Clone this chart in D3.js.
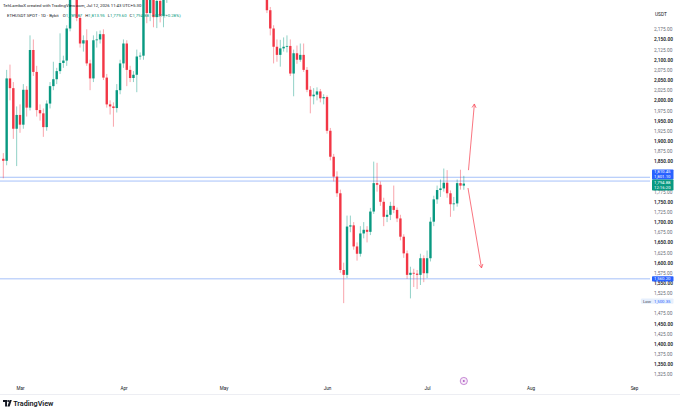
<!DOCTYPE html>
<html>
<head>
<meta charset="utf-8">
<script src="https://cdn.jsdelivr.net/npm/d3@7"></script>
<style>
	html, body { margin: 0; padding: 0; background: #fff; }
	svg { display: block; font-family: Roboto, "Noto Sans", sans-serif; }
</style>
</head>
<body>
<div id="chart"></div>
<script>
// ETHUSDT daily candles (Bybit). Mid Apr - mid May is above the visible range and left out.
var days = [
	"02-24","02-25","02-26","02-27","02-28",
	"03-01","03-02","03-03","03-04","03-05","03-06","03-07","03-08","03-09","03-10","03-11","03-12","03-13","03-14","03-15","03-16",
	"03-17","03-18","03-19","03-20","03-21","03-22","03-23","03-24","03-25","03-26","03-27","03-28","03-29","03-30","03-31",
	"04-01","04-02","04-03","04-04","04-05","04-06","04-07","04-08","04-09","04-10","04-11","04-12","04-13","04-14",
	"05-14","05-15","05-16","05-17","05-18","05-19","05-20","05-21","05-22","05-23","05-24","05-25","05-26","05-27","05-28","05-29","05-30","05-31",
	"06-01","06-02","06-03","06-04","06-05","06-06","06-07","06-08","06-09","06-10","06-11","06-12","06-13","06-14","06-15",
	"06-16","06-17","06-18","06-19","06-20","06-21","06-22","06-23","06-24","06-25","06-26","06-27","06-28","06-29","06-30",
	"07-01","07-02","07-03","07-04","07-05","07-06","07-07","07-08","07-09","07-10","07-11","07-12"
]
var open = [
	1856,1851,2054,2030,1930,
	1964,1940,2026,1982,2124,2070,1976,1968,1934,1992,2035,2052,2072,2092,2098,2177,
	2256,2272,2203,2140,2148,2091,2054,2148,2150,2163,2056,1990,1985,1981,2025,
	2091,2140,2075,2055,2063,2108,2110,2250,2215,2250,2205,2245,2208,2252,
	2290,2222,2177,2132,2112,2128,2132,2134,2066,2116,2100,2112,2075,2026,2010,2014,2022,2005,
	2008,1925,1861,1812,1771,1582,1570,1689,1692,1640,1622,1672,1681,1676,1726,
	1796,1792,1750,1713,1718,1740,1730,1709,1664,1623,1570,1575,1573,1570,1611,
	1574,1611,1701,1756,1779,1783,1797,1771,1744,1746,1796,1789.87
]
var high = [
	1870,2075,2088,2045,1985,
	1990,2040,2035,2160,2150,2085,1990,1980,2000,2045,2095,2080,2165,2110,2185,2262,
	2290,2280,2210,2160,2175,2100,2160,2170,2172,2175,2065,2000,1995,2040,2100,
	2150,2148,2085,2072,2125,2118,2262,2258,2262,2256,2255,2252,2262,2320,
	2300,2230,2185,2150,2149,2155,2160,2150,2125,2135,2140,2140,2082,2035,2030,2032,2028,2015,
	2012,1932,1868,1825,1780,1600,1716,1716,1700,1650,1690,1700,1690,1735,1849,
	1846,1800,1760,1730,1750,1790,1736,1718,1670,1630,1590,1585,1582,1622,1618,
	1630,1712,1765,1790,1805,1832,1828,1778,1762,1805,1829,1813.95
]
var low = [
	1808,1840,2000,1905,1838,
	1920,1930,1960,1975,2060,1960,1950,1910,1925,1980,2025,2040,2065,2080,2085,2170,
	2252,2195,2130,2120,2085,2025,2045,2130,2140,2050,1982,1965,1935,1970,2015,
	2080,2035,2045,2045,2020,2100,2100,2190,2195,2180,2178,2192,2180,2240,
	2215,2160,2091,2095,2083,2120,2118,2060,2010,2090,2095,2070,2020,1968,1990,2000,1995,1990,
	1918,1852,1800,1762,1575,1500.35,1562,1675,1632,1605,1615,1660,1650,1668,1720,
	1775,1740,1690,1700,1705,1722,1700,1655,1612,1560,1512,1540,1535,1545,1552,
	1562,1603,1690,1745,1762,1775,1760,1713,1728,1738,1780,1779.60
]
var close = [
	1851,2054,2030,1930,1964,
	1940,2026,1982,2124,2070,1976,1968,1934,1992,2035,2052,2072,2092,2098,2177,2250,
	2272,2203,2140,2148,2091,2054,2148,2150,2163,2056,1990,1985,1981,2025,2091,
	2140,2075,2055,2063,2108,2110,2250,2215,2250,2205,2245,2208,2252,2300,
	2222,2177,2132,2112,2128,2132,2134,2066,2116,2100,2112,2075,2026,2010,2014,2022,2005,2008,
	1925,1861,1812,1771,1582,1570,1689,1692,1640,1622,1672,1681,1676,1726,1796,
	1792,1750,1713,1718,1740,1730,1709,1664,1623,1570,1575,1573,1570,1611,1574,
	1611,1701,1756,1779,1783,1797,1771,1744,1746,1796,1789.87,1794.88
]

var monthTicks = ["03-01","04-01","05-01","06-01","07-01","08-01","09-01"]
// 1,500 / 1,800 / 1,825 sit under the price tags and are not shown
var priceTicks = [1325,1350,1375,1400,1425,1450,1475,1525,1550,1575,1600,1625,1650,1675,1700,1725,1750,
	1775,1850,1875,1900,1925,1950,1975,2000,2025,2050,2075,2100,2125,2150,2175]
// drawn horizontal levels
var levels = [1810.45, 1801.10, 1560.20]
var lowValue = 1500.35
// the two drawn arrows: [start day, start price, end day, end price]
var arrows = [
	["2026-07-13T09:40", 1828, "2026-07-15T04:00", 1991],
	["2026-07-13T06:00", 1784, "2026-07-17T07:20", 1587]
]
var eventDay = "07-12"
var countdown = "12:16:20"

var width = 680, height = 414
var plotRight = 650, plotBottom = 381
var up = "#089981", down = "#f23645", blue = "#2962ff"

var parseDay = d3.utcParse("%Y-%m-%d")
var toDate = (d) => parseDay("2026-" + d)
var candles = days.map((d, i) => ({date: toDate(d), o: open[i], h: high[i], l: low[i], c: close[i]}))

var x = d3.scaleUtc().domain([toDate("03-01"), toDate("09-01")]).range([20, 634])
var y = d3.scaleLinear().domain([1325, 2175]).range([374.3, 29.3])

var svg = d3.select("#chart").append("svg")
	.attr("width", width)
	.attr("height", height)
svg.append("rect").attr("width", width).attr("height", height).attr("fill", "#fff")

svg.append("clipPath").attr("id", "plot-clip")
	.append("rect").attr("x", 0).attr("y", 0).attr("width", plotRight).attr("height", plotBottom)

var plot = svg.append("g").attr("clip-path", "url(#plot-clip)")

plot.selectAll("line.level")
	.data(levels)
	.enter().append("line")
	.attr("class", "level")
	.attr("x1", 0).attr("x2", plotRight)
	.attr("y1", (v) => y(v)).attr("y2", (v) => y(v))
	.attr("stroke", "#8fb1f7")
	.attr("stroke-width", 0.8)

var bodyW = 2.4
var groups = plot.selectAll("g.candle")
	.data(candles)
	.enter().append("g")
	.attr("class", "candle")
	.attr("fill", (d) => d.c >= d.o ? up : down)
	.attr("stroke", (d) => d.c >= d.o ? up : down)
groups.append("line")
	.attr("x1", (d) => x(d.date)).attr("x2", (d) => x(d.date))
	.attr("y1", (d) => y(d.h)).attr("y2", (d) => y(d.l))
	.attr("stroke-width", 0.6)
	.attr("stroke-opacity", 0.75)
groups.append("rect")
	.attr("stroke", "none")
	.attr("x", (d) => x(d.date) - bodyW / 2)
	.attr("width", bodyW)
	.attr("y", (d) => y(Math.max(d.o, d.c)))
	.attr("height", (d) => Math.max(0.8, Math.abs(y(d.o) - y(d.c))))

// arrows
var headLen = 4.2, headAng = 0.5
arrows.forEach(function (a) {
	var x1 = x(d3.isoParse(a[0] + ":00Z")), y1 = y(a[1])
	var x2 = x(d3.isoParse(a[2] + ":00Z")), y2 = y(a[3])
	var ang = Math.atan2(y2 - y1, x2 - x1)
	var g = plot.append("g").attr("stroke", "#f7525f").attr("stroke-width", 0.8).attr("fill", "none")
	g.append("line").attr("x1", x1).attr("y1", y1).attr("x2", x2).attr("y2", y2)
	g.append("path").attr("d",
		"M" + (x2 - headLen * Math.cos(ang - headAng)) + "," + (y2 - headLen * Math.sin(ang - headAng)) +
		"L" + x2 + "," + y2 +
		"L" + (x2 - headLen * Math.cos(ang + headAng)) + "," + (y2 - headLen * Math.sin(ang + headAng)))
})

// event marker
var ev = svg.append("g").attr("transform", "translate(" + x(toDate(eventDay)) + ",381)")
ev.append("circle").attr("r", 3.6).attr("fill", "#f6ebf8").attr("stroke", "#b05cc4").attr("stroke-width", 0.7)
ev.append("circle").attr("r", 1).attr("fill", "#b05cc4")

// price scale
var yAxis = d3.axisRight(y)
	.tickValues(priceTicks)
	.tickFormat(d3.format(",.2f"))
	.tickSize(0)
	.tickPadding(4)
var yg = svg.append("g").attr("transform", "translate(" + plotRight + ",0)").call(yAxis)
yg.select(".domain").remove()
yg.selectAll("text")
	.attr("font-size", 4.8)
	.attr("font-family", "Roboto")
	.attr("fill", (v) => v % 50 == 0 ? "#131722" : "#6a6d78")
	.attr("font-weight", (v) => v % 50 == 0 ? 600 : 400)

svg.append("text").attr("x", 655).attr("y", 15.5).attr("font-size", 4.8).attr("fill", "#131722").text("USDT")

// time scale
var xAxis = d3.axisBottom(x)
	.tickValues(monthTicks.map(toDate))
	.tickFormat(d3.utcFormat("%b"))
	.tickSize(0)
	.tickPadding(0)
var xg = svg.append("g").attr("transform", "translate(0,387)").call(xAxis)
xg.select(".domain").remove()
xg.selectAll("text").attr("font-size", 4.6).attr("font-family", "Roboto").attr("fill", "#131722")

svg.append("line").attr("x1", 0).attr("x2", width).attr("y1", 394.5).attr("y2", 394.5)
	.attr("stroke", "#e0e3eb").attr("stroke-width", 0.6)

// price labels on the scale
function priceTag(top, h, fill, lines, color) {
	svg.append("rect").attr("x", 652).attr("y", top).attr("width", 21.5).attr("height", h).attr("rx", 0.8).attr("fill", fill)
	lines.forEach(function (t, i) {
		svg.append("text").attr("x", 654).attr("y", top + (i + 0.5) * h / lines.length)
			.attr("dy", "0.35em").attr("font-size", 4.3).attr("fill", color).text(t)
	})
}
var fmt = d3.format(",.2f")
var last = candles[candles.length - 1]
var tagTop = y(levels[0]) - 7.8
priceTag(tagTop, 10, blue, [fmt(levels[0]), fmt(levels[1])], "#fff")
priceTag(tagTop + 10, 11, up, [fmt(last.c), countdown], "#fff")
priceTag(y(levels[2]) - 2.6, 5.2, blue, [fmt(levels[2])], "#fff")

svg.append("rect").attr("x", 641).attr("y", y(lowValue) - 4.6).attr("width", 32.5).attr("height", 5.2)
	.attr("rx", 0.8).attr("fill", "#e6effd")
svg.append("text").attr("x", 643).attr("y", y(lowValue) - 2).attr("dy", "0.35em").attr("font-size", 4.3)
	.attr("fill", "#434651").text("Low")
svg.append("text").attr("x", 654).attr("y", y(lowValue) - 2).attr("dy", "0.35em").attr("font-size", 4.3)
	.attr("fill", "#2962ff").text(fmt(lowValue))

// header
svg.append("text").attr("x", 3).attr("y", 7).attr("font-size", 4.3).attr("fill", "#131722")
	.text("TehLamboX created with TradingView.com, Jul 12, 2026 11:43 UTC+5:30")
var legend = svg.append("text").attr("x", 7).attr("y", 16.5).attr("font-size", 4.3).attr("fill", "#131722")
legend.append("tspan").text("ETHUSDT SPOT · 1D · Bybit  ")
var ohlc = [["O", last.o], ["H", last.h], ["L", last.l], ["C", last.c]]
ohlc.forEach(function (p) {
	legend.append("tspan").attr("dx", 3).text(p[0])
	legend.append("tspan").attr("fill", up).text(fmt(p[1]))
})
var chg = last.c - candles[candles.length - 2].c
legend.append("tspan").attr("dx", 3).attr("fill", up)
	.text("+" + fmt(chg) + " (+" + d3.format(".2f")(chg / candles[candles.length - 2].c * 100) + "%)")

// TradingView logo
var logo = svg.append("g").attr("fill", "#131722")
logo.append("path").attr("d", "M3,400 H7 V406.5 H5.1 V401.9 H3 Z")
logo.append("circle").attr("cx", 8.2).attr("cy", 401).attr("r", 1)
logo.append("path").attr("d", "M9.6,400 H11.8 L9.6,406.5 H7.4 Z")
svg.append("text").attr("x", 13.2).attr("y", 406.2).attr("font-size", 7.2).attr("font-weight", 600)
	.attr("fill", "#131722").text("TradingView")
</script>
</body>
</html>
